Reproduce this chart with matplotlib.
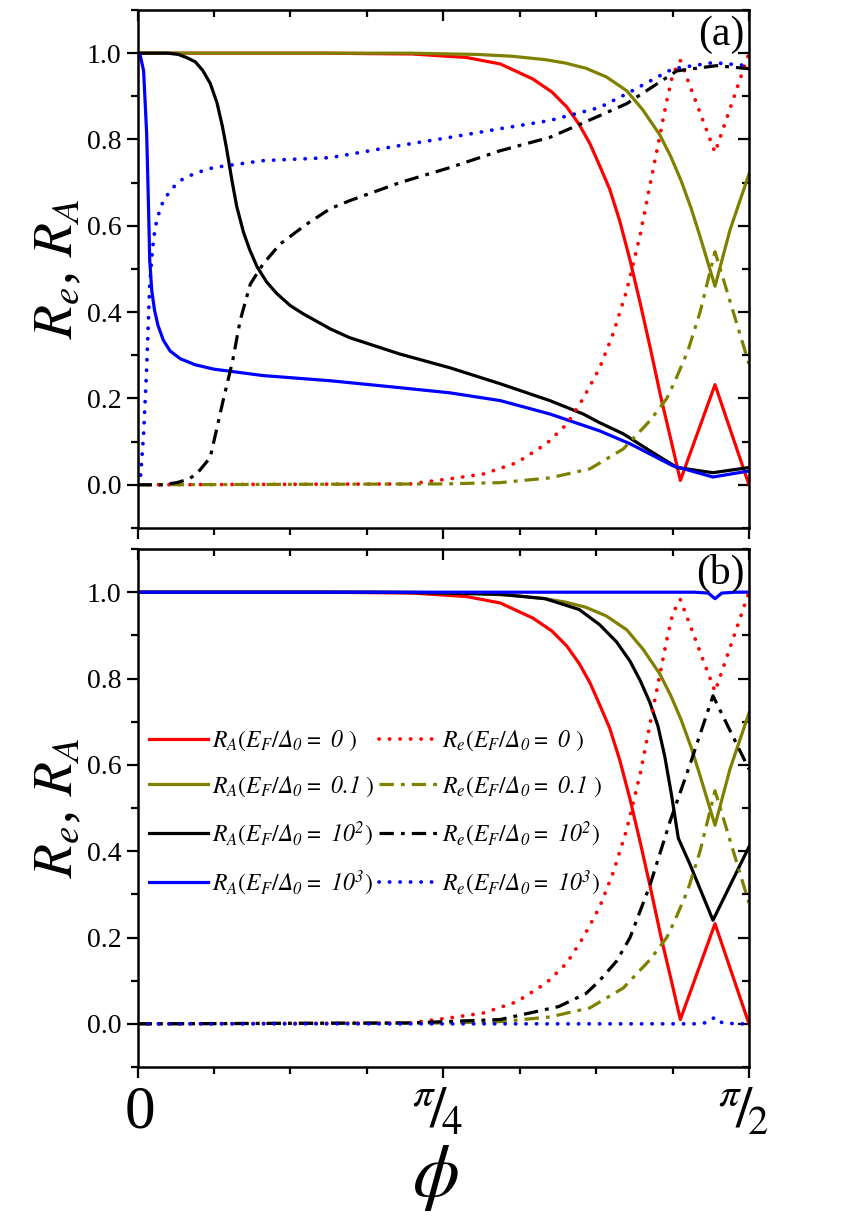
import numpy as np
import matplotlib
matplotlib.use('Agg')
import matplotlib.pyplot as plt
from matplotlib.ticker import MultipleLocator
from matplotlib.transforms import blended_transform_factory

plt.rcParams['font.family'] = ['Liberation Serif', 'DejaVu Serif']
plt.rcParams['mathtext.fontset'] = 'custom'
plt.rcParams['mathtext.rm'] = 'STIXGeneral'
plt.rcParams['mathtext.it'] = 'STIXGeneral:italic'
plt.rcParams['mathtext.bf'] = 'STIXGeneral:bold'
plt.rcParams['mathtext.sf'] = 'STIXGeneral:italic'   # used for italic digits

# phi in degrees (0 .. 90 = pi/2)
# ---- shared curves (same in both panels) ----
phi_RA0 = [0, 27, 40.5, 48.4, 53.4, 58.2, 61, 63.2, 65, 66.6, 68.0, 69.5, 71, 72.5, 74, 75.5, 77, 78.5,
           79.9, 85.0, 90]
RA0 = [1.0, 1.0, 0.998, 0.99, 0.975, 0.94, 0.91, 0.875, 0.835, 0.79, 0.74, 0.685, 0.61, 0.52, 0.42, 0.315,
       0.205, 0.105, 0.01, 0.232, 0.0]

phi_RA01 = [0, 40, 50, 55, 60, 63, 66, 69, 72, 74.4, 76.9, 78.5, 80, 81.5, 82.8, 85, 87.2, 90]
RA01 = [1, 1, 0.997, 0.993, 0.985, 0.977, 0.965, 0.945, 0.913, 0.868, 0.81, 0.76, 0.705, 0.64, 0.575,
        0.46, 0.59, 0.72]

phi_Re0 = [0, 40.1, 46.0, 50.9, 55.8, 60.2, 63.2, 65.6, 68.0, 70, 72, 74, 75.5, 76.9, 77.9, 78.8, 79.9,
           85.0, 90]
Re0 = [0, 0.002, 0.014, 0.025, 0.051, 0.095, 0.141, 0.2, 0.27, 0.35, 0.45, 0.58, 0.7, 0.81, 0.89, 0.952,
       0.983, 0.77, 1.0]

phi_Re01 = [0, 45, 53.4, 60.7, 66.6, 71.5, 75.4, 77.9, 79.1, 81, 82.8, 85.0, 90]
Re01 = [0, 0.002, 0.005, 0.016, 0.037, 0.083, 0.148, 0.2, 0.24, 0.31, 0.4, 0.54, 0.28]

# ---- panel (a) ----
phi_RA1e2_a = [0, 4.5, 6.0, 7.2, 8.5, 9.6, 10.7, 11.7, 12.5, 13.1, 13.9, 14.6, 15.6, 16.5, 17.6, 19, 20.5,
               22.5, 24.4, 28.4, 31.2, 38.6, 46.0, 53.4, 60.7, 65.6, 68.0, 71.5, 75.4, 79.4, 84.7, 90]
RA1e2_a = [1, 1, 0.997, 0.99, 0.98, 0.96, 0.93, 0.885, 0.83, 0.78, 0.705, 0.645, 0.585, 0.545, 0.505,
           0.47, 0.443, 0.415, 0.396, 0.361, 0.341, 0.303, 0.271, 0.234, 0.195, 0.164, 0.144, 0.118,
           0.079, 0.04, 0.028, 0.04]

phi_RA1e3_a = [0, 0.4, 0.9, 1.35, 1.6, 1.8, 2.1, 2.5, 3.0, 3.8, 4.8, 6.3, 8.5, 11.2, 18.5, 28.4, 38.6, 46.0,
               53.4, 60.7, 68.0, 72.5, 78.8, 84.7, 90]
RA1e3_a = [1, 0.995, 0.959, 0.813, 0.658, 0.52, 0.45, 0.405, 0.37, 0.335, 0.31, 0.292, 0.278, 0.268,
           0.253, 0.241, 0.225, 0.213, 0.195, 0.164, 0.125, 0.095, 0.044, 0.018, 0.032]

phi_Re1e2_a = [0, 3.6, 5.8, 7.5, 8.7, 10.7, 12.6, 14.0, 15.1, 16.6, 18.5, 21.0, 24.9, 28.4, 31.2, 38.6,
               46.0, 53.4, 60.7, 68.0, 72.0, 79.4, 85.2, 90]
Re1e2_a = [0, 0, 0.005, 0.013, 0.025, 0.063, 0.195, 0.287, 0.38, 0.465, 0.512, 0.558, 0.604, 0.64, 0.658,
           0.70, 0.735, 0.774, 0.805, 0.855, 0.883, 0.959, 0.971, 0.964]

phi_Re1e3_a = [0, 0.4, 0.9, 1.35, 1.8, 2.2, 2.6, 3.2, 3.8, 5.0, 6.3, 8.5, 11.2, 18.5, 28.4, 38.6, 46.0,
               53.4, 60.7, 68.0, 72.0, 78.8, 84.7, 90]
Re1e3_a = [0, 0.009, 0.118, 0.271, 0.465, 0.545, 0.596, 0.632, 0.658, 0.685, 0.705, 0.722, 0.735, 0.751,
           0.758, 0.786, 0.805, 0.825, 0.844, 0.874, 0.906, 0.964, 0.978, 0.971]

# ---- panel (b) ----
phi_RA1e2_b = [0, 35, 45, 53.4, 60, 65, 68, 70.5, 72.5, 74, 75.4, 76.6, 77.6, 78.6, 79.6, 81.3, 84.7, 90]
RA1e2_b = [1, 1, 0.998, 0.995, 0.985, 0.96, 0.925, 0.885, 0.84, 0.795, 0.745, 0.69, 0.62, 0.53, 0.43,
           0.37, 0.24, 0.41]

phi_Re1e2_b = [0, 40, 53.4, 62, 66, 68, 70.5, 72.5, 75.4, 78.4, 81.3, 84.7, 90]
Re1e2_b = [0, 0.002, 0.01, 0.04, 0.07, 0.1, 0.145, 0.2, 0.32, 0.47, 0.6, 0.76, 0.59]

phi_RA1e3_b = [0, 82, 84, 85, 86, 88, 90]
RA1e3_b = [1, 1, 0.998, 0.985, 0.998, 1, 1]

phi_Re1e3_b = [0, 82, 84, 85, 86, 88, 90]
Re1e3_b = [0, 0, 0.003, 0.016, 0.003, 0, 0]

labels_A = [r'$R_A(E_F/\mathsf{\Delta}_{\mathsf{0}}\mathsf{=}\ \mathsf{0}\ )$',
            r'$R_A(E_F/\mathsf{\Delta}_{\mathsf{0}}\mathsf{=}\ \mathsf{0.1}\ )$',
            r'$R_A(E_F/\mathsf{\Delta}_{\mathsf{0}}\mathsf{=}\ \mathsf{10}^{\mathsf{2}})$',
            r'$R_A(E_F/\mathsf{\Delta}_{\mathsf{0}}\mathsf{=}\ \mathsf{10}^{\mathsf{3}})$']
labels_e = [r'$R_e(E_F/\mathsf{\Delta}_{\mathsf{0}}\mathsf{=}\ \mathsf{0}\ )$',
            r'$R_e(E_F/\mathsf{\Delta}_{\mathsf{0}}\mathsf{=}\ \mathsf{0.1}\ )$',
            r'$R_e(E_F/\mathsf{\Delta}_{\mathsf{0}}\mathsf{=}\ \mathsf{10}^{\mathsf{2}})$',
            r'$R_e(E_F/\mathsf{\Delta}_{\mathsf{0}}\mathsf{=}\ \mathsf{10}^{\mathsf{3}})$']
xtick_pos = [0, 45, 90]
xtick_labels = ['0', r'$^{\pi}\!/_{\!4}$', r'$^{\pi}\!/_{\!2}$']

colors = ['#ff0000', '#808000', '#000000', '#0000ff']
lw = 2.3
dot = (0, (0.05, 2.75))
dashdot = (0, (4.5, 2.2, 1.2, 2.2))

fig = plt.figure(figsize=(8.61, 12.19), dpi=100)
ax_a = fig.add_axes([0.1597, 0.5669, 0.7102, 0.4249])
ax_b = fig.add_axes([0.1597, 0.1247, 0.7102, 0.4249])


def draw(ax, A_curves, e_curves):
    handles = []
    for (x, y), c, lab in zip(A_curves, colors, labels_A):
        h, = ax.plot(x, y, color=c, lw=lw, ls='-', label=lab)
        handles.append(h)
    for (x, y), c, lab, i in zip(e_curves, colors, labels_e, range(4)):
        if i in (0, 3):
            h, = ax.plot(x, y, color=c, lw=lw + 0.4, ls=dot, dash_capstyle='round', label=lab)
        else:
            h, = ax.plot(x, y, color=c, lw=lw, ls=dashdot, label=lab)
        handles.append(h)
    ax.set_xlim(0, 90)
    ax.set_ylim(-0.1, 1.1)
    ax.xaxis.set_major_locator(MultipleLocator(45))
    ax.xaxis.set_minor_locator(MultipleLocator(11.25))
    ax.yaxis.set_minor_locator(MultipleLocator(0.1))
    ax.set_yticks([0, 0.2, 0.4, 0.6, 0.8, 1.0])
    ax.set_yticklabels(['0.0', '0.2', '0.4', '0.6', '0.8', '1.0'])
    ax.tick_params(which='both', direction='out', width=1.6, labelsize=20, top=False, right=False)
    ax.tick_params(which='major', length=8)
    ax.tick_params(which='minor', length=5)
    ax.set_xticklabels([])
    for sp in ax.spines.values():
        sp.set_linewidth(1.8)
    # inward ticks on top and right
    sec_x = ax.secondary_xaxis('top')
    sec_x.xaxis.set_major_locator(MultipleLocator(45))
    sec_x.xaxis.set_minor_locator(MultipleLocator(11.25))
    sec_x.tick_params(which='both', direction='in', width=1.6, labeltop=False)
    sec_x.tick_params(which='major', length=8)
    sec_x.tick_params(which='minor', length=5)
    sec_y = ax.secondary_yaxis('right')
    sec_y.yaxis.set_major_locator(MultipleLocator(0.2))
    sec_y.yaxis.set_minor_locator(MultipleLocator(0.1))
    sec_y.tick_params(which='both', direction='in', width=1.6, labelright=False)
    sec_y.tick_params(which='major', length=8)
    sec_y.tick_params(which='minor', length=5)
    ax.set_ylabel(r'$R_e$, $R_A$', fontsize=40, labelpad=2)
    return handles


draw(ax_a,
     [(phi_RA0, RA0), (phi_RA01, RA01), (phi_RA1e2_a, RA1e2_a), (phi_RA1e3_a, RA1e3_a)],
     [(phi_Re0, Re0), (phi_Re01, Re01), (phi_Re1e2_a, Re1e2_a), (phi_Re1e3_a, Re1e3_a)])
handles = draw(ax_b,
               [(phi_RA0, RA0), (phi_RA01, RA01), (phi_RA1e2_b, RA1e2_b), (phi_RA1e3_b, RA1e3_b)],
               [(phi_Re0, Re0), (phi_Re01, Re01), (phi_Re1e2_b, Re1e2_b), (phi_Re1e3_b, Re1e3_b)])

# x tick labels: 0, pi/4, pi/2 (slanted fractions)
tr = blended_transform_factory(ax_b.transData, ax_b.transAxes)
ax_b.text(xtick_pos[0] + 0.3, -0.088, xtick_labels[0], transform=tr, fontsize=44, ha='center', va='center')
for xc, lab in zip(xtick_pos[1:], xtick_labels[1:]):
    ax_b.text(xc - 0.8, -0.09, lab, transform=tr, fontsize=42, ha='center', va='center')
ax_b.text(43.8, -0.215, r'$\phi$', transform=tr, fontsize=54, ha='center', va='center')

ax_a.text(0.993, 0.99, '(a)', transform=ax_a.transAxes, fontsize=30, ha='right', va='top')
ax_b.text(0.993, 0.99, '(b)', transform=ax_b.transAxes, fontsize=30, ha='right', va='top')

ax_b.legend(handles=handles, ncol=2, loc='upper left', bbox_to_anchor=(-0.005, 0.68), frameon=False,
            fontsize=17, handlelength=2.5, handletextpad=0.2, columnspacing=0.15, labelspacing=0.88,
            borderaxespad=0.2)

fig.savefig('out.png', dpi=100)
